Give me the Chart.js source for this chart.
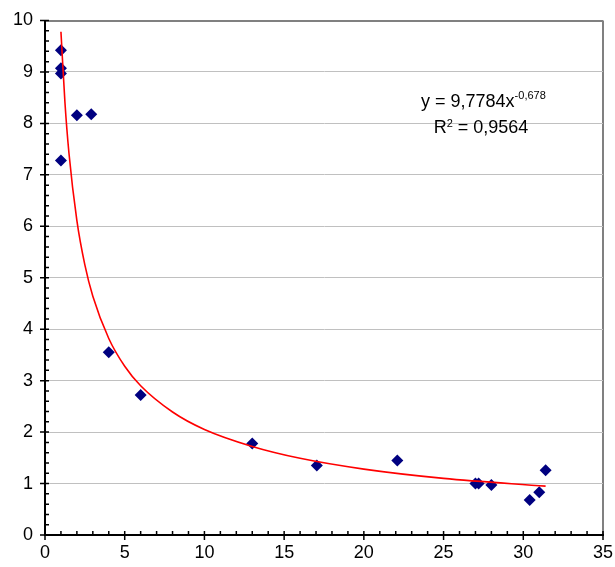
<!DOCTYPE html>
<html>
<head>
<meta charset="utf-8">
<script src="https://cdn.jsdelivr.net/npm/chart.js@4.4.1/dist/chart.umd.min.js"></script>
<style>
    body { margin: 0; background: #fff; }
    #powerChart { display: block; }
</style>
</head>
<body>
<canvas id="powerChart" width="615" height="567"></canvas>
<script>
// Measured points
const xValues = [1, 1, 1, 2, 2.9, 1, 4, 6, 13, 17.05, 22.1, 27, 27.2, 28, 30.4, 31, 31.4];
const yValues = [9.42, 9.07, 8.97, 8.16, 8.18, 7.28, 3.55, 2.72, 1.78, 1.35, 1.45, 1.0, 1.0, 0.97, 0.68, 0.83, 1.26];

// Red trend curve
const trendX = [1, 1.25, 1.5, 2, 2.5, 3, 4, 5, 6, 8, 10, 13, 16, 20, 25, 31.4];
const trendY = [9.78, 8.41, 7.43, 6.11, 5.25, 4.64, 3.82, 3.28, 2.90, 2.39, 2.05, 1.72, 1.49, 1.28, 1.10, 0.95];

// Axis ticks
const xTicks = [0, 5, 10, 15, 20, 25, 30, 35];
const yTicks = [0, 1, 2, 3, 4, 5, 6, 7, 8, 9, 10];

// Trendline label
const equationMain = 'y = 9,7784x';
const equationPower = '-0,678';
const rSquaredMain = 'R';
const rSquaredPower = '2';
const rSquaredValue = ' = 0,9564';

const FONT = "'Liberation Sans', Arial, sans-serif";

const tickMarks = {
    id: 'tickMarks',
    afterDraw(chart) {
        const { ctx, scales: { x, y } } = chart;
        const axisY = y.getPixelForValue(0);
        const axisX = x.getPixelForValue(0);
        ctx.save();
        ctx.strokeStyle = '#000';
        ctx.lineWidth = 1.5;
        ctx.beginPath();
        // x axis: minor every 1, major every 5 (crossing the axis)
        for (let v = xTicks[0]; v <= xTicks[xTicks.length - 1]; v++) {
            const px = x.getPixelForValue(v);
            const major = xTicks.includes(v);
            ctx.moveTo(px, axisY - 4);
            ctx.lineTo(px, axisY + (major ? 5 : 0));
        }
        // y axis: minor every 0.2, major every 1
        for (let i = 0; i <= yTicks[yTicks.length - 1] * 5; i++) {
            const py = y.getPixelForValue(i / 5);
            const major = i % 5 === 0;
            ctx.moveTo(axisX + 4, py);
            ctx.lineTo(axisX - (major ? 5 : 0), py);
        }
        ctx.stroke();
        ctx.restore();
    }
};

const equationLabel = {
    id: 'equationLabel',
    afterDraw(chart) {
        const { ctx, scales: { x, y } } = chart;
        ctx.save();
        ctx.fillStyle = '#000';
        ctx.textBaseline = 'alphabetic';
        ctx.textAlign = 'left';

        const drawLine = (parts, cx, baseY) => {
            let total = 0;
            parts.forEach(p => {
                ctx.font = `${p.size}px ${FONT}`;
                p.w = ctx.measureText(p.text).width;
                total += p.w;
            });
            let px = cx - total / 2;
            parts.forEach(p => {
                ctx.font = `${p.size}px ${FONT}`;
                ctx.fillText(p.text, px, baseY - p.rise);
                px += p.w;
            });
        };

        drawLine([
            { text: equationMain, size: 18, rise: 0 },
            { text: equationPower, size: 11, rise: 8 }
        ], x.getPixelForValue(27.5), y.getPixelForValue(8.32));

        drawLine([
            { text: rSquaredMain, size: 18, rise: 0 },
            { text: rSquaredPower, size: 11, rise: 6 },
            { text: rSquaredValue, size: 18, rise: 0 }
        ], x.getPixelForValue(27.35), y.getPixelForValue(7.81));
        ctx.restore();
    }
};

new Chart(document.getElementById('powerChart'), {
    type: 'scatter',
    data: {
        datasets: [{
            label: 'Trend',
            data: trendX.map((v, i) => ({ x: v, y: trendY[i] })),
            showLine: true,
            borderColor: '#ff0000',
            borderWidth: 1.6,
            pointRadius: 0,
            cubicInterpolationMode: 'monotone',
            order: 0
        }, {
            label: 'Data',
            data: xValues.map((v, i) => ({ x: v, y: yValues[i] })),
            pointStyle: 'rectRot',
            pointRadius: 6,
            backgroundColor: '#000080',
            borderColor: '#000080',
            borderWidth: 0,
            order: 1
        }]
    },
    options: {
        responsive: false,
        animation: false,
        layout: { padding: { top: 20.5, right: 12, left: 0, bottom: 0 } },
        plugins: {
            legend: { display: false },
            tooltip: { enabled: false }
        },
        scales: {
            x: {
                type: 'linear',
                min: xTicks[0],
                max: xTicks[xTicks.length - 1],
                afterFit: scale => {
                    scale.height = 32;
                    scale.paddingLeft = 0;
                    scale.paddingRight = 0;
                },
                afterBuildTicks: scale => { scale.ticks = xTicks.map(v => ({ value: v })); },
                ticks: {
                    color: '#000',
                    font: { family: FONT, size: 18 },
                    padding: 7,
                    maxRotation: 0
                },
                grid: {
                    drawTicks: false,
                    color: c => c.tick && c.tick.value === 35 ? '#808080' : 'transparent',
                    lineWidth: 2
                },
                border: { color: '#000', width: 2 }
            },
            y: {
                min: yTicks[0],
                max: yTicks[yTicks.length - 1],
                afterFit: scale => {
                    scale.width = 45;
                    scale.paddingTop = 0;
                    scale.paddingBottom = 0;
                },
                afterBuildTicks: scale => { scale.ticks = yTicks.map(v => ({ value: v })); },
                ticks: {
                    color: '#000',
                    font: { family: FONT, size: 18 },
                    padding: 12
                },
                grid: {
                    drawTicks: false,
                    color: c => {
                        if (!c.tick) return 'transparent';
                        if (c.tick.value === 10) return '#808080';
                        if (c.tick.value === 0) return 'transparent';
                        return '#c0c0c0';
                    },
                    lineWidth: c => c.tick && c.tick.value === 10 ? 2 : 1
                },
                border: { color: '#000', width: 2 }
            }
        }
    },
    plugins: [tickMarks, equationLabel]
});
</script>
</body>
</html>
